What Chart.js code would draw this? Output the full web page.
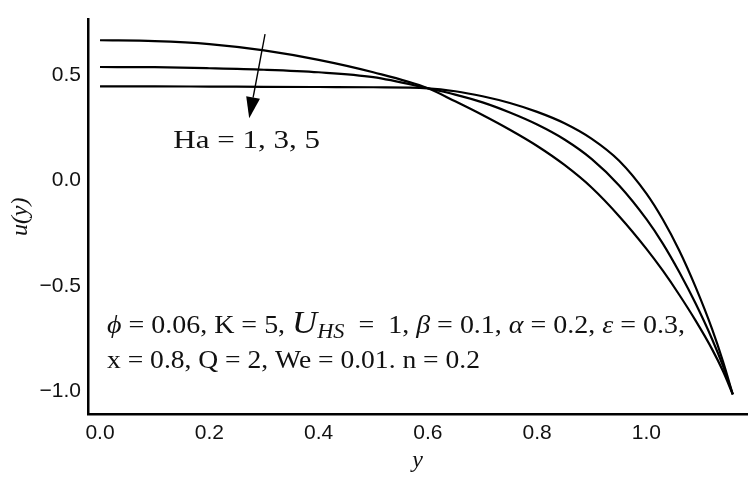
<!DOCTYPE html>
<html><head><meta charset="utf-8">
<script src="https://cdn.jsdelivr.net/npm/chart.js@4/dist/chart.umd.min.js"></script>
<style>html,body{margin:0;padding:0;background:#fff;}#wrap{width:756px;height:483px;}</style>
</head><body><div id="wrap"><canvas id="c" width="756" height="483"></canvas></div>
<script>
// ---- data ----
const yPositions = [0, 0.1, 0.2, 0.3, 0.4, 0.5, 0.6, 0.65, 0.7, 0.75, 0.8, 0.85, 0.9, 0.95, 1.0, 1.03, 1.06, 1.09, 1.12, 1.14, 1.158];
const uHa1 = [0.666, 0.662, 0.648, 0.618, 0.573, 0.514, 0.438, 0.376, 0.311, 0.241, 0.164, 0.074, -0.034, -0.169, -0.324, -0.428, -0.542, -0.665, -0.800, -0.904, -1.015];
const uHa3 = [0.539, 0.538, 0.533, 0.526, 0.514, 0.491, 0.438, 0.408, 0.371, 0.323, 0.266, 0.195, 0.102, -0.023, -0.183, -0.299, -0.434, -0.584, -0.752, -0.880, -1.015];
const uHa5 = [0.447, 0.447, 0.446, 0.445, 0.444, 0.443, 0.438, 0.424, 0.400, 0.368, 0.326, 0.272, 0.198, 0.094, -0.062, -0.185, -0.332, -0.506, -0.704, -0.858, -1.015];
const seriesLabels = ['Ha = 1', 'Ha = 3', 'Ha = 5'];
const xTickValues = [0, 0.2, 0.4, 0.6, 0.8, 1.0];
const yTickValues = [-1.0, -0.5, 0.0, 0.5];
const xTitle = 'y';
const yTitle = 'u(y)';
const haLabel = 'Ha = 1, 3, 5';

const toPts = arr => yPositions.map((x, i) => ({x: x, y: arr[i]}));
const serif = '"Liberation Serif", "Times New Roman", serif';
const sans = '"Liberation Sans", Arial, sans-serif';

function drawRich(ctx, segs, x0, x1, baseY, size) {
  const fontOf = s => (s.it ? 'italic ' : '') + Math.round(size * (s.k || 1)) + 'px ' + serif;
  let w = 0;
  segs.forEach(s => { ctx.font = fontOf(s); w += ctx.measureText(s.t).width; });
  const sx = (x1 - x0) / w;
  ctx.save();
  ctx.translate(x0, baseY);
  ctx.scale(sx, 1);
  ctx.fillStyle = '#111';
  ctx.textBaseline = 'alphabetic';
  ctx.textAlign = 'left';
  let cx = 0;
  segs.forEach(s => {
    ctx.font = fontOf(s);
    ctx.fillText(s.t, cx, s.dy || 0);
    cx += ctx.measureText(s.t).width;
  });
  ctx.restore();
}

const annotations = {
  id: 'annotations',
  afterDraw(chart) {
    const {ctx, scales: {x, y}} = chart;
    // arrow
    const ax1 = x.getPixelForValue(0.302), ay1 = y.getPixelForValue(0.695);
    const ax2 = x.getPixelForValue(0.273), ay2 = y.getPixelForValue(0.296);
    const ang = Math.atan2(ay2 - ay1, ax2 - ax1);
    const L = 21, H = 7;
    const bx = ax2 - L * Math.cos(ang), by = ay2 - L * Math.sin(ang);
    ctx.save();
    ctx.strokeStyle = '#000'; ctx.fillStyle = '#000'; ctx.lineWidth = 1.4;
    ctx.beginPath(); ctx.moveTo(ax1, ay1); ctx.lineTo(bx, by); ctx.stroke();
    ctx.beginPath();
    ctx.moveTo(ax2, ay2);
    ctx.lineTo(bx + H * Math.sin(ang), by - H * Math.cos(ang));
    ctx.lineTo(bx - H * Math.sin(ang), by + H * Math.cos(ang));
    ctx.closePath(); ctx.fill();
    ctx.restore();
    // Ha label
    drawRich(ctx, [{t: haLabel}], x.getPixelForValue(0.134), x.getPixelForValue(0.4026), y.getPixelForValue(0.154), 26);
    // parameter lines
    const line1 = [
      {t: '\u03D5', it: true}, {t: ' = 0.06, K = 5, '},
      {t: 'U', it: true, k: 1.25}, {t: 'HS', it: true, k: 0.8, dy: 5},
      {t: '  =  1, '}, {t: '\u03B2', it: true}, {t: ' = 0.1, '},
      {t: '\u03B1', it: true}, {t: ' = 0.2, '}, {t: '\u03B5', it: true}, {t: ' = 0.3,'}
    ];
    const line2 = [{t: 'x = 0.8, Q = 2, We = 0.01. n = 0.2'}];
    drawRich(ctx, line1, x.getPixelForValue(0.0128), x.getPixelForValue(1.0704), y.getPixelForValue(-0.722), 25);
    drawRich(ctx, line2, x.getPixelForValue(0.0128), x.getPixelForValue(0.6953), y.getPixelForValue(-0.892), 25);
  }
};

const lineStyle = {borderColor: '#000', borderWidth: 2.2, pointRadius: 0, fill: false, cubicInterpolationMode: 'monotone'};

new Chart(document.getElementById('c'), {
  type: 'line',
  data: {
    datasets: [
      Object.assign({label: seriesLabels[0], data: toPts(uHa1)}, lineStyle),
      Object.assign({label: seriesLabels[1], data: toPts(uHa3)}, lineStyle),
      Object.assign({label: seriesLabels[2], data: toPts(uHa5)}, lineStyle)
    ]
  },
  options: {
    responsive: false,
    animation: false,
    devicePixelRatio: 1,
    layout: {padding: {left: 0, right: 9, top: 6, bottom: 0}},
    plugins: {legend: {display: false}, tooltip: {enabled: false}},
    scales: {
      x: {
        type: 'linear', min: -0.022, max: 1.184,
        afterBuildTicks: s => { s.ticks = xTickValues.map(v => ({value: v})); },
        afterFit: s => { s.height = 69; },
        ticks: {callback: v => v.toFixed(1), font: {family: sans, size: 21}, color: '#111', padding: 7, maxRotation: 0, autoSkip: false},
        grid: {display: false, drawTicks: false},
        border: {display: true, color: '#000', width: 2.5},
        title: {display: true, text: xTitle, color: '#111', font: {family: serif, style: 'italic', size: 24}, padding: {top: 0, bottom: 8}}
      },
      y: {
        type: 'linear', min: -1.108, max: 0.764,
        afterBuildTicks: s => { s.ticks = yTickValues.map(v => ({value: v})); },
        afterFit: s => { s.width = 88; },
        ticks: {callback: v => (v < -1e-9 ? '\u2212' : '') + Math.abs(v).toFixed(1), font: {family: sans, size: 21}, color: '#111', padding: 7},
        grid: {display: false, drawTicks: false},
        border: {display: true, color: '#000', width: 2.5},
        title: {display: true, text: yTitle, color: '#111', font: {family: serif, style: 'italic', size: 24}, padding: {top: 6, bottom: 0}}
      }
    }
  },
  plugins: [annotations]
});
</script>
</body></html>
